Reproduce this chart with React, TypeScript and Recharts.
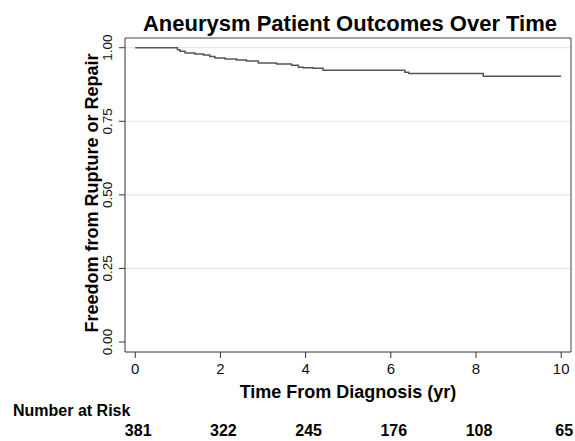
import {
  LineChart,
  Line,
  XAxis,
  YAxis,
  ReferenceLine,
} from 'recharts';

// Kaplan-Meier estimate (freedom from rupture or repair)
const times = [0, 0.99, 1.05, 1.17, 1.4, 1.6, 1.75, 1.87, 2.11, 2.38, 2.61, 2.89, 3.32, 3.67, 3.83, 3.94, 4.18, 4.41, 6.33, 6.42, 8.17, 10.0];
const survival = [1.0, 0.993, 0.988, 0.982, 0.979, 0.975, 0.97, 0.965, 0.962, 0.958, 0.955, 0.948, 0.945, 0.94, 0.934, 0.932, 0.93, 0.923, 0.917, 0.912, 0.903, 0.903];

// number at risk under each x tick
const xTicks = [0, 2, 4, 6, 8, 10];
const atRisk = [381, 322, 245, 176, 108, 65];

const yTicks = [0, 0.25, 0.5, 0.75, 1];
const gridValues = [0.25, 0.5, 0.75, 1];
const xDomain = [-0.24, 10.23];
const yDomain = [-0.034, 1.033];

const data = times.map((t, i) => ({ t, s: survival[i] }));

const FONT = '"Liberation Sans", Arial, sans-serif';

const XTick = (props: any) => {
  const { x, y, payload } = props;
  const i = xTicks.indexOf(payload.value);
  return (
    <g fontFamily={FONT}>
      <text x={x} y={y + 14} textAnchor="middle" fontSize={15} fill="#111">
        {payload.value}
      </text>
      <text x={x + 3} y={y + 76} textAnchor="middle" fontSize={16} fontWeight="bold" fill="#000">
        {atRisk[i]}
      </text>
    </g>
  );
};

const YTick = (props: any) => {
  const { x, y, payload } = props;
  const tx = x - 4.5;
  return (
    <text
      x={tx}
      y={y}
      textAnchor="middle"
      fontSize={13.5}
      fontFamily={FONT}
      fill="#111"
      transform={`rotate(-90 ${tx} ${y})`}
    >
      {payload.value.toFixed(2)}
    </text>
  );
};

export default function App() {
  return (
    <div style={{ position: 'absolute', left: 0, top: 0, width: 575, height: 441, background: '#fff' }}>
      <LineChart
        width={575}
        height={441}
        data={data}
        margin={{ top: 38, right: 4, left: 65, bottom: 59 }}
      >
        <XAxis
          dataKey="t"
          type="number"
          domain={xDomain}
          ticks={xTicks}
          allowDataOverflow
          height={30}
          stroke="#333"
          tickSize={6}
          tick={<XTick />}
        />
        <YAxis
          type="number"
          domain={yDomain}
          ticks={yTicks}
          allowDataOverflow
          width={60}
          stroke="#333"
          tickSize={6}
          tick={<YTick />}
        />
        {gridValues.map((v) => (
          <ReferenceLine key={v} y={v} stroke="#e3e3e3" strokeWidth={1} />
        ))}
        <ReferenceLine y={yDomain[1]} stroke="#444" strokeWidth={1} />
        <ReferenceLine x={xDomain[1]} stroke="#444" strokeWidth={1} />
        <Line
          type="stepAfter"
          dataKey="s"
          stroke="#555"
          strokeWidth={1.5}
          dot={false}
          isAnimationActive={false}
        />
      </LineChart>
      <svg
        width={575}
        height={441}
        style={{ position: 'absolute', left: 0, top: 0, pointerEvents: 'none' }}
        fontFamily={FONT}
        fontWeight="bold"
      >
        <text x={350} y={31} textAnchor="middle" fontSize={22} fill="#000">
          Aneurysm Patient Outcomes Over Time
        </text>
        <text x={348} y={398} textAnchor="middle" fontSize={18} fill="#000">
          Time From Diagnosis (yr)
        </text>
        <text x={98} y={193} textAnchor="middle" fontSize={18} fill="#000" transform="rotate(-90 98 193)">
          Freedom from Rupture or Repair
        </text>
        <text x={13} y={416} fontSize={16} fill="#000">
          Number at Risk
        </text>
      </svg>
    </div>
  );
}
